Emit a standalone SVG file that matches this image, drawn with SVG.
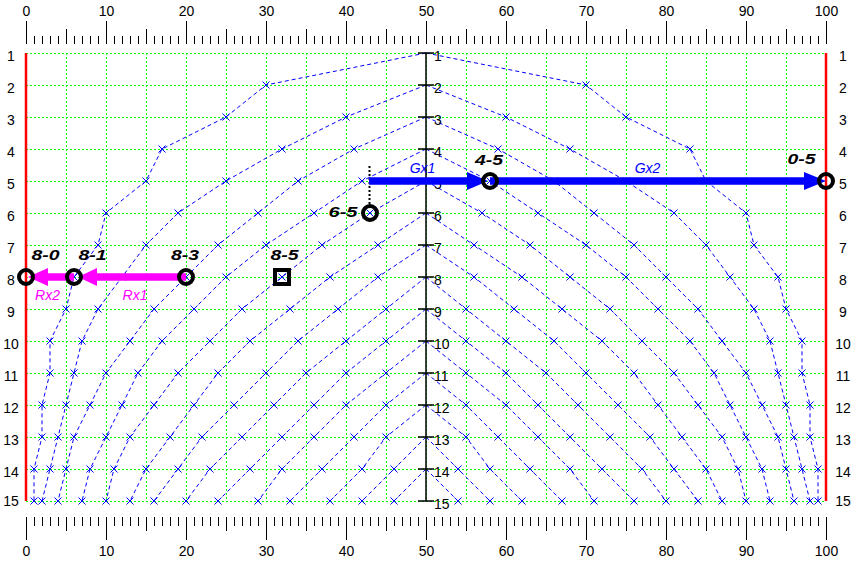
<svg xmlns="http://www.w3.org/2000/svg" xmlns:xlink="http://www.w3.org/1999/xlink" width="853" height="563" viewBox="0 0 853 563">
<style>
.t{font-family:"Liberation Sans",Arial,sans-serif;font-size:14px;fill:#000}
.m{text-anchor:middle}
.g{fill:none;stroke:#00ff00;stroke-width:1;stroke-dasharray:2 2}
.c{fill:none;stroke:#0000ff;stroke-width:1;stroke-dasharray:4 3;marker-mid:url(#x);marker-end:url(#x)}
.n{fill:none;stroke:#000;stroke-width:4}
.nl{font-family:"Liberation Sans",Arial,sans-serif;font-size:15px;font-weight:bold;font-style:italic;fill:#000;text-anchor:middle}
.al{font-family:"Liberation Sans",Arial,sans-serif;font-size:14px;font-style:italic;text-anchor:middle}
</style>
<defs>
<marker id="x" markerWidth="10" markerHeight="10" refX="5" refY="5" markerUnits="userSpaceOnUse" orient="0" overflow="visible">
<path d="M1.5,1.5L8.5,8.5M1.5,8.5L8.5,1.5" fill="none" stroke="#0000ff" stroke-width="1" stroke-dasharray="none"/>
</marker>
</defs>
<rect width="853" height="563" fill="#fff"/>
<g id="rulers" stroke="#000" fill="none">
<line x1="26" y1="40" x2="827" y2="40" stroke-width="8" stroke-dasharray="1 7"/>
<line x1="26" y1="36.5" x2="827" y2="36.5" stroke-width="15" stroke-dasharray="1 39"/>
<line x1="26" y1="32.5" x2="827" y2="32.5" stroke-width="23" stroke-dasharray="1 79"/>
<line x1="26" y1="521.5" x2="827" y2="521.5" stroke-width="9" stroke-dasharray="1 7"/>
<line x1="26" y1="524" x2="827" y2="524" stroke-width="14" stroke-dasharray="1 39"/>
<line x1="26" y1="528.5" x2="827" y2="528.5" stroke-width="23" stroke-dasharray="1 79"/>
</g>
<g id="ruler-labels" class="t m">
<text x="26.5" y="16">0</text><text x="106.5" y="16">10</text><text x="186.5" y="16">20</text><text x="266.5" y="16">30</text><text x="346.5" y="16">40</text><text x="426.5" y="16">50</text><text x="506.5" y="16">60</text><text x="586.5" y="16">70</text><text x="666.5" y="16">80</text><text x="746.5" y="16">90</text><text x="826.5" y="16">100</text>
<text x="26.5" y="556">0</text><text x="106.5" y="556">10</text><text x="186.5" y="556">20</text><text x="266.5" y="556">30</text><text x="346.5" y="556">40</text><text x="426.5" y="556">50</text><text x="506.5" y="556">60</text><text x="586.5" y="556">70</text><text x="666.5" y="556">80</text><text x="746.5" y="556">90</text><text x="826.5" y="556">100</text>
</g>
<g id="grid">
<path class="g" d="M66.5,53V501M106.5,53V501M146.5,53V501M186.5,53V501M226.5,53V501M266.5,53V501M306.5,53V501M346.5,53V501M386.5,53V501M426.5,53V501M466.5,53V501M506.5,53V501M546.5,53V501M586.5,53V501M626.5,53V501M666.5,53V501M706.5,53V501M746.5,53V501M786.5,53V501"/>
<path class="g" d="M26,53.5H826M26,85.5H826M26,117.5H826M26,149.5H826M26,181.5H826M26,213.5H826M26,245.5H826M26,277.5H826M26,309.5H826M26,341.5H826M26,373.5H826M26,405.5H826M26,437.5H826M26,469.5H826M26,501.5H826"/>
</g>
<g id="row-labels" class="t m">
<text x="11" y="61">1</text><text x="11" y="93">2</text><text x="11" y="125">3</text><text x="11" y="157">4</text><text x="11" y="189">5</text><text x="11" y="221">6</text><text x="11" y="253">7</text><text x="11" y="285">8</text><text x="11" y="317">9</text><text x="11" y="349">10</text><text x="11" y="381">11</text><text x="11" y="413">12</text><text x="11" y="445">13</text><text x="11" y="477">14</text><text x="11" y="506">15</text>
<text x="843" y="61">1</text><text x="843" y="93">2</text><text x="843" y="125">3</text><text x="843" y="157">4</text><text x="843" y="189">5</text><text x="843" y="221">6</text><text x="843" y="253">7</text><text x="843" y="285">8</text><text x="843" y="317">9</text><text x="843" y="349">10</text><text x="843" y="381">11</text><text x="843" y="413">12</text><text x="843" y="445">13</text><text x="843" y="477">14</text><text x="843" y="506">15</text>
</g>
<g id="curves">
<g id="curves-left">
<polyline class="c" points="426,53 266,85 226,117 162,149 146,181 106,213 98,245 74,277 66,309 50,341 50,373 42,405 42,437 34,469 34,501"/>
<polyline class="c" points="426,85 346,117 282,149 226,181 178,213 146,245 122,277 98,309 82,341 74,373 66,405 58,437 50,469 42,501"/>
<polyline class="c" points="426,117 354,149 298,181 258,213 218,245 186,277 154,309 130,341 106,373 90,405 74,437 66,469 58,501"/>
<polyline class="c" points="426,149 362,181 314,213 266,245 226,277 194,309 162,341 138,373 122,405 106,437 90,469 82,501"/>
<polyline class="c" points="426,181 370,213 322,245 282,277 242,309 210,341 178,373 154,405 130,437 114,469 106,501"/>
<polyline class="c" points="426,213 378,245 330,277 290,309 250,341 218,373 194,405 170,437 146,469 130,501"/>
<polyline class="c" points="426,245 378,277 338,309 298,341 266,373 234,405 202,437 178,469 154,501"/>
<polyline class="c" points="426,277 386,309 346,341 306,373 274,405 242,437 210,469 186,501"/>
<polyline class="c" points="426,309 386,341 346,373 314,405 282,437 250,469 218,501"/>
<polyline class="c" points="426,341 386,373 346,405 314,437 282,469 258,501"/>
<polyline class="c" points="426,373 386,405 354,437 322,469 290,501"/>
<polyline class="c" points="426,405 386,437 362,469 330,501"/>
<polyline class="c" points="426,437 394,469 362,501"/>
<polyline class="c" points="426,469 394,501"/>
</g>
<use xlink:href="#curves-left" href="#curves-left" transform="translate(852,0) scale(-1,1)"/>
</g>
<g id="bounds" stroke="#ff0000" stroke-width="2.5">
<line x1="26" y1="53" x2="26" y2="501"/>
<line x1="826" y1="53" x2="826" y2="501"/>
</g>
<g id="center-axis">
<path d="M426,53V501M418,53H434M418,85H434M418,117H434M418,149H434M418,181H434M418,213H434M418,245H434M418,277H434M418,309H434M418,341H434M418,373H434M418,405H434M418,437H434M418,469H434M418,501H434" stroke="#000" stroke-width="1.5" fill="none"/>
<g class="t">
<text x="434" y="61">1</text><text x="434" y="93">2</text><text x="434" y="125">3</text><text x="434" y="157">4</text><text x="434" y="189">5</text><text x="434" y="221">6</text><text x="434" y="253">7</text><text x="434" y="285">8</text><text x="434" y="317">9</text><text x="434" y="349">10</text><text x="434" y="381">11</text><text x="434" y="413">12</text><text x="434" y="445">13</text><text x="434" y="477">14</text><text x="434" y="509">15</text>
</g>
</g>
<g id="connectors">
<line x1="369.5" y1="166" x2="369.5" y2="204" stroke="#000" stroke-width="2" stroke-dasharray="2 2"/>
<path id="Gx1" d="M369,177.25H467V172L488,181L467,190V184.75H369Z" fill="#0000ff"/>
<path id="Gx2" d="M490,177.25H804V172L826,181L804,190V184.75H490Z" fill="#0000ff"/>
<path id="Rx1" d="M186,273.25H97V268L78,277L97,286V280.75H186Z" fill="#ff00ff"/>
<path id="Rx2" d="M74,273.25H48V268L28,277L48,286V280.75H74Z" fill="#ff00ff"/>
<text class="al" x="422.5" y="173" fill="#0000ff">Gx1</text>
<text class="al" x="647.5" y="173" fill="#0000ff">Gx2</text>
<text class="al" x="135" y="300" fill="#ff00ff">Rx1</text>
<text class="al" x="47.5" y="300" fill="#ff00ff">Rx2</text>
</g>
<g id="node-8-0"><circle class="n" cx="26" cy="277" r="7"/><text class="nl" x="45.5" y="260" textLength="28" lengthAdjust="spacingAndGlyphs">8-0</text></g>
<g id="node-8-1"><circle class="n" cx="74" cy="277" r="7"/><text class="nl" x="92.5" y="260" textLength="28" lengthAdjust="spacingAndGlyphs">8-1</text></g>
<g id="node-8-3"><circle class="n" cx="186" cy="277" r="7"/><text class="nl" x="185" y="260" textLength="28" lengthAdjust="spacingAndGlyphs">8-3</text></g>
<g id="node-8-5"><rect class="n" x="275" y="270" width="14" height="14"/><text class="nl" x="284.5" y="260" textLength="28" lengthAdjust="spacingAndGlyphs">8-5</text></g>
<g id="node-6-5"><circle class="n" cx="370" cy="213" r="7"/><text class="nl" x="343" y="217" textLength="29" lengthAdjust="spacingAndGlyphs">6-5</text></g>
<g id="node-4-5"><circle class="n" cx="490" cy="181" r="7"/><text class="nl" x="489" y="165" textLength="28" lengthAdjust="spacingAndGlyphs">4-5</text></g>
<g id="node-0-5"><circle class="n" cx="826" cy="181" r="7"/><text class="nl" x="801.5" y="164" textLength="28" lengthAdjust="spacingAndGlyphs">0-5</text></g>
</svg>
